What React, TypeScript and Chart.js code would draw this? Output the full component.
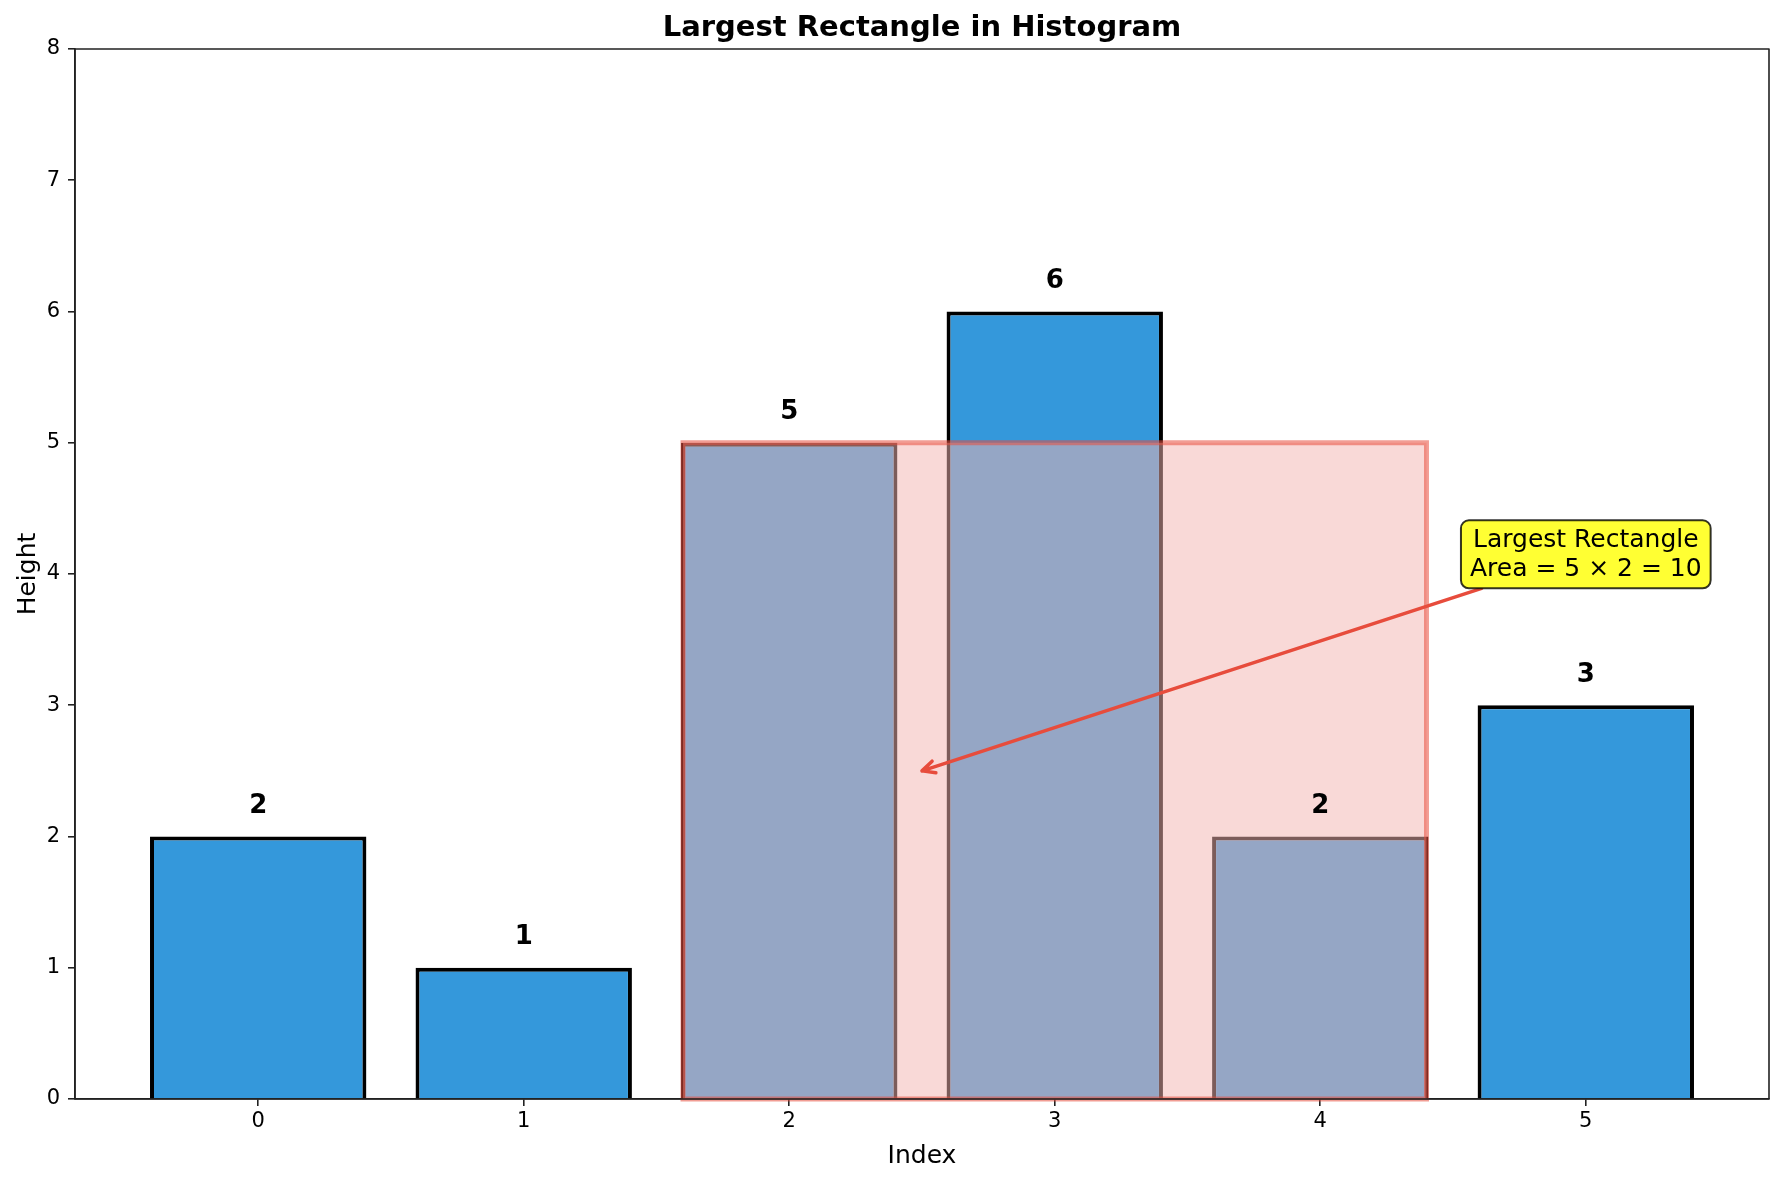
import { useEffect, useRef } from "react";
import { Chart, registerables } from "chart.js";

Chart.register(...registerables);

// Histogram data
const INDICES = [0, 1, 2, 3, 4, 5];
const HEIGHTS = [2, 1, 5, 6, 2, 3];
const Y_TICKS = [0, 1, 2, 3, 4, 5, 6, 7, 8];

// Highlighted rectangle (bar span and height)
const RECT_FROM = 2;
const RECT_TO = 4;
const BEST_HEIGHT = 5;
const BEST_WIDTH = 2;

// Annotation anchor points (data coordinates)
const ARROW_TARGET = [2.5, 2.5];
const NOTE_POS = [5, 4.15];

const BAR_WIDTH = 0.8;
const X_MIN = -0.69;
const X_MAX = 5.69;
const FONT = "'DejaVu Sans', Verdana, sans-serif";

export default function App() {
  const ref = useRef<HTMLCanvasElement>(null);

  useEffect(() => {
    const canvas = ref.current;
    if (!canvas) return;

    const decorations = {
      id: "decorations",
      afterDatasetsDraw(chart: any) {
        const { ctx, chartArea } = chart;
        const x = chart.scales.x;
        const y = chart.scales.y;
        ctx.save();

        // highlighted largest rectangle
        const x0 = x.getPixelForValue(RECT_FROM - BAR_WIDTH / 2);
        const x1 = x.getPixelForValue(RECT_TO + BAR_WIDTH / 2);
        const yTop = y.getPixelForValue(BEST_HEIGHT);
        const yBase = y.getPixelForValue(0);
        ctx.fillStyle = "rgba(243,180,176,0.51)";
        ctx.fillRect(x0, yTop, x1 - x0, yBase - yTop);
        ctx.strokeStyle = "rgba(231,76,60,0.55)";
        ctx.lineWidth = 5;
        ctx.strokeRect(x0, yTop, x1 - x0, yBase - yTop);

        // value labels above bars
        ctx.fillStyle = "#000";
        ctx.font = `bold 26px ${FONT}`;
        ctx.textAlign = "center";
        ctx.textBaseline = "alphabetic";
        HEIGHTS.forEach((h, i) => {
          ctx.fillText(String(h), x.getPixelForValue(INDICES[i]), y.getPixelForValue(h + 0.18));
        });

        // annotation arrow + box
        const lines = ["Largest Rectangle", `Area = ${BEST_HEIGHT} × ${BEST_WIDTH} = ${BEST_HEIGHT * BEST_WIDTH}`];
        ctx.font = `25px ${FONT}`;
        const textW = Math.max(...lines.map((l) => ctx.measureText(l).width));
        const cx = x.getPixelForValue(NOTE_POS[0]);
        const cy = y.getPixelForValue(NOTE_POS[1]);
        const halfW = textW / 2 + 9;
        const halfH = 34;
        const tx = x.getPixelForValue(ARROW_TARGET[0]);
        const ty = y.getPixelForValue(ARROW_TARGET[1]);
        const dx = tx - cx;
        const dy = ty - cy;
        const t = Math.min(halfW / Math.abs(dx), halfH / Math.abs(dy));
        const sx = cx + dx * t;
        const sy = cy + dy * t;

        ctx.strokeStyle = "#e74c3c";
        ctx.lineWidth = 3.5;
        ctx.lineCap = "round";
        ctx.lineJoin = "round";
        ctx.beginPath();
        ctx.moveTo(sx, sy);
        ctx.lineTo(tx, ty);
        const ang = Math.atan2(ty - sy, tx - sx);
        const head = 14;
        ctx.moveTo(tx + head * Math.cos(ang + Math.PI - 0.45), ty + head * Math.sin(ang + Math.PI - 0.45));
        ctx.lineTo(tx, ty);
        ctx.lineTo(tx + head * Math.cos(ang + Math.PI + 0.45), ty + head * Math.sin(ang + Math.PI + 0.45));
        ctx.stroke();

        ctx.beginPath();
        ctx.roundRect(cx - halfW, cy - halfH, halfW * 2, halfH * 2, 8);
        ctx.fillStyle = "#ffff33";
        ctx.fill();
        ctx.strokeStyle = "rgba(0,0,0,0.8)";
        ctx.lineWidth = 2;
        ctx.stroke();

        ctx.fillStyle = "#000";
        ctx.textAlign = "center";
        ctx.fillText(lines[0], cx, cy - 7);
        ctx.fillText(lines[1], cx, cy + 22);

        // frame around plot area
        ctx.strokeStyle = "#222";
        ctx.lineWidth = 1.6;
        ctx.lineCap = "butt";
        ctx.strokeRect(chartArea.left, chartArea.top, chartArea.right - chartArea.left, chartArea.bottom - chartArea.top);

        // title and axis titles
        const midX = (chartArea.left + chartArea.right) / 2;
        const midY = (chartArea.top + chartArea.bottom) / 2;
        ctx.fillStyle = "#000";
        ctx.font = `bold 29px ${FONT}`;
        ctx.fillText("Largest Rectangle in Histogram", midX, 36);
        ctx.font = `25px ${FONT}`;
        ctx.fillText("Index", midX, 1163);
        ctx.translate(35, midY);
        ctx.rotate(-Math.PI / 2);
        ctx.fillText("Height", 0, 0);
        ctx.restore();
      },
    };

    const chart = new Chart(canvas, {
      type: "bar",
      data: {
        datasets: [
          {
            data: HEIGHTS.map((h, i) => ({ x: INDICES[i], y: h })),
            backgroundColor: "#3498db",
            borderColor: "#000",
            borderWidth: 4,
            barPercentage: 0.815,
            categoryPercentage: 1,
          },
        ],
      },
      options: {
        responsive: false,
        animation: false,
        layout: { padding: { left: 0, right: 15, top: 49, bottom: 0 } },
        plugins: { legend: { display: false }, tooltip: { enabled: false }, title: { display: false } },
        scales: {
          x: {
            type: "linear",
            min: X_MIN,
            max: X_MAX,
            offset: false,
            afterBuildTicks: (scale: any) => {
              scale.ticks = INDICES.map((v) => ({ value: v }));
            },
            afterFit: (scale: any) => {
              scale.height = 83;
            },
            grid: { offset: false, drawOnChartArea: false, drawTicks: true, tickLength: 7, color: "#222", lineWidth: 1.6 },
            border: { display: true, color: "#222", width: 1.6 },
            ticks: { color: "#000", font: { family: FONT, size: 21 }, padding: 3, callback: (v: any) => String(v) },
          },
          y: {
            type: "linear",
            min: 0,
            max: 8,
            afterBuildTicks: (scale: any) => {
              scale.ticks = Y_TICKS.map((v) => ({ value: v }));
            },
            afterFit: (scale: any) => {
              scale.width = 75;
            },
            grid: { drawOnChartArea: false, drawTicks: true, tickLength: 7, color: "#222", lineWidth: 1.6 },
            border: { display: true, color: "#222", width: 1.6 },
            ticks: { color: "#000", font: { family: FONT, size: 21 }, padding: 8, callback: (v: any) => String(v) },
          },
        },
      },
      plugins: [decorations],
    });

    return () => chart.destroy();
  }, []);

  return (
    <div style={{ position: "absolute", left: 0, top: 0, width: 1784, height: 1182, background: "#fff" }}>
      <canvas ref={ref} width={1784} height={1182} style={{ display: "block" }} />
    </div>
  );
}
